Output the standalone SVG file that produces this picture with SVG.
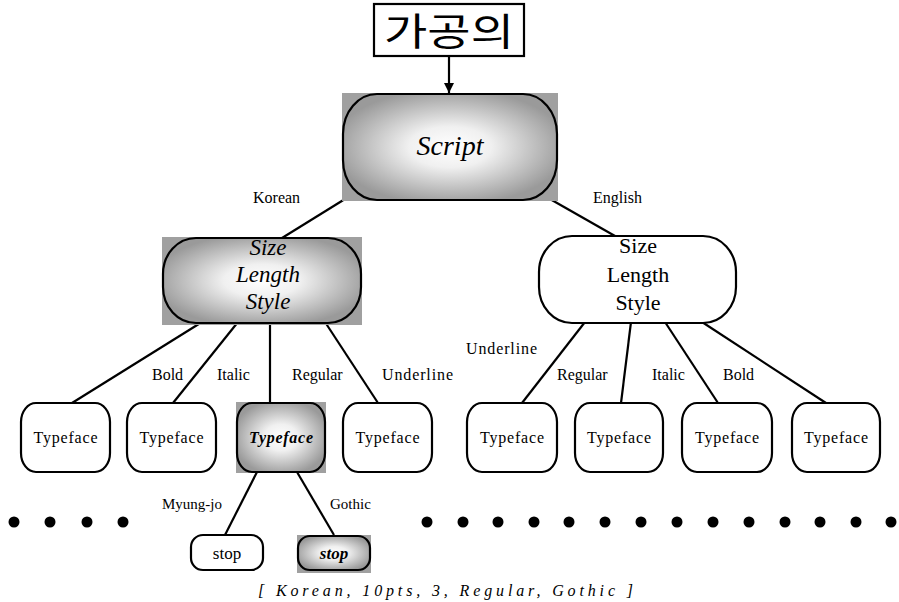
<svg xmlns="http://www.w3.org/2000/svg" width="899" height="602" viewBox="0 0 899 602">
<defs>
<radialGradient id="g" cx="50%" cy="50%" r="55%">
<stop offset="0" stop-color="#ffffff"/>
<stop offset="0.35" stop-color="#f0f0f0"/>
<stop offset="1" stop-color="#9a9a9a"/>
</radialGradient>
<marker id="arr" viewBox="0 0 10 10" refX="10" refY="5" markerWidth="10" markerHeight="10" markerUnits="userSpaceOnUse" orient="auto">
<path d="M0,0 L10,5 L0,10 z" fill="#000"/>
</marker>
</defs>
<style>
.n{fill:#fff;stroke:#000;stroke-width:2.2}
.gn{fill:url(#g);stroke:#000;stroke-width:2.2}
.bg{fill:#a0a0a0}
.c line{stroke:#000;stroke-width:2.2}
.t{fill:#000;text-anchor:middle}
.lb{font-size:16px;fill:#000}
.dot{fill:#000}
</style>
<rect width="899" height="602" fill="#fff"/>
<g font-family="Liberation Serif, Tinos, DejaVu Serif, Times New Roman, serif">

<g id="connectors" class="c">
<line x1="449" y1="56" x2="449" y2="93" marker-end="url(#arr)"/>
<line x1="345" y1="199" x2="282" y2="238"/>
<line x1="550" y1="199" x2="615" y2="236"/>
<line x1="202" y1="322" x2="72" y2="403"/>
<line x1="238" y1="322" x2="173" y2="403"/>
<line x1="270" y1="322" x2="270" y2="403"/>
<line x1="325" y1="322" x2="378" y2="403"/>
<line x1="585" y1="322" x2="522" y2="403"/>
<line x1="631" y1="322" x2="621" y2="403"/>
<line x1="665" y1="322" x2="718" y2="403"/>
<line x1="702" y1="322" x2="826" y2="403"/>
<line x1="257" y1="472" x2="225" y2="535"/>
<line x1="297" y1="472" x2="334" y2="535"/>
</g>

<g id="labels" class="lb">
<text x="253" y="203">Korean</text>
<text x="593" y="203">English</text>
<text x="152" y="380">Bold</text>
<text x="217" y="380">Italic</text>
<text x="292" y="380">Regular</text>
<text x="382" y="380" textLength="71">Underline</text>
<text x="466" y="354" textLength="71">Underline</text>
<text x="557" y="380">Regular</text>
<text x="652" y="380">Italic</text>
<text x="723" y="380">Bold</text>
<text x="162" y="509" font-size="15">Myung-jo</text>
<text x="330" y="509" font-size="15">Gothic</text>
</g>

<g id="title">
<rect x="374" y="4" width="150" height="52" fill="#fff" stroke="#000" stroke-width="2.2"/>
<text x="449" y="45" font-family="Noto Sans CJK KR, Noto Sans, sans-serif" font-size="38" text-anchor="middle" fill="#000" textLength="130" lengthAdjust="spacingAndGlyphs">가공의</text>
</g>

<g id="script">
<rect class="bg" x="342" y="93" width="216" height="108"/>
<rect class="gn" x="343" y="94" width="214" height="106" rx="34" ry="40"/>
<text class="t" x="450" y="155" font-size="28" font-style="italic">Script</text>
</g>

<g id="korean-size">
<rect class="bg" x="162" y="237" width="200" height="88"/>
<rect class="gn" x="163" y="238" width="198" height="85" rx="33" ry="36"/>
<text class="t" x="268" y="255" font-size="23" font-style="italic">Size</text>
<text class="t" x="268" y="282" font-size="23" font-style="italic">Length</text>
<text class="t" x="268" y="309" font-size="23" font-style="italic">Style</text>
</g>

<g id="english-size">
<rect class="n" x="539" y="236" width="197" height="87" rx="33" ry="36"/>
<text class="t" x="638" y="253" font-size="22">Size</text>
<text class="t" x="638" y="282" font-size="22">Length</text>
<text class="t" x="638" y="310" font-size="22">Style</text>
</g>

<g id="tf1">
<rect class="n" x="21" y="403" width="89" height="69" rx="15" ry="19"/>
<text class="t" x="65.5" y="443" font-size="16" textLength="64">Typeface</text>
</g>
<g id="tf2">
<rect class="n" x="127" y="403" width="89" height="69" rx="15" ry="19"/>
<text class="t" x="171.5" y="443" font-size="16" textLength="64">Typeface</text>
</g>
<g id="tf3">
<rect class="bg" x="236" y="402" width="90" height="71"/>
<rect class="gn" x="237" y="403" width="88" height="69" rx="15" ry="19"/>
<text class="t" x="281" y="443" font-size="16" font-style="italic" font-weight="bold" textLength="64">Typeface</text>
</g>
<g id="tf4">
<rect class="n" x="343" y="403" width="89" height="69" rx="15" ry="19"/>
<text class="t" x="387.5" y="443" font-size="16" textLength="64">Typeface</text>
</g>
<g id="tf5">
<rect class="n" x="467" y="403" width="90" height="69" rx="15" ry="19"/>
<text class="t" x="512" y="443" font-size="16" textLength="64">Typeface</text>
</g>
<g id="tf6">
<rect class="n" x="575" y="403" width="88" height="69" rx="15" ry="19"/>
<text class="t" x="619" y="443" font-size="16" textLength="64">Typeface</text>
</g>
<g id="tf7">
<rect class="n" x="682" y="403" width="90" height="69" rx="15" ry="19"/>
<text class="t" x="727" y="443" font-size="16" textLength="64">Typeface</text>
</g>
<g id="tf8">
<rect class="n" x="792" y="403" width="88" height="69" rx="15" ry="19"/>
<text class="t" x="836" y="443" font-size="16" textLength="64">Typeface</text>
</g>

<g id="stop1">
<rect class="n" x="191" y="535" width="72" height="35" rx="12" ry="12"/>
<text class="t" x="227" y="559" font-size="17">stop</text>
</g>
<g id="stop2">
<rect class="bg" x="297" y="535" width="74" height="38"/>
<rect class="gn" x="298" y="536" width="72" height="34" rx="12" ry="12"/>
<text class="t" x="334" y="559" font-size="17" font-style="italic" font-weight="bold">stop</text>
</g>

<g id="dots" class="dot">
<circle cx="14" cy="522" r="5.5"/>
<circle cx="50" cy="522" r="5.5"/>
<circle cx="87" cy="522" r="5.5"/>
<circle cx="123" cy="522" r="5.5"/>
<circle cx="427" cy="522" r="5.5"/>
<circle cx="463" cy="522" r="5.5"/>
<circle cx="498" cy="522" r="5.5"/>
<circle cx="534" cy="522" r="5.5"/>
<circle cx="569" cy="522" r="5.5"/>
<circle cx="605" cy="522" r="5.5"/>
<circle cx="641" cy="522" r="5.5"/>
<circle cx="677" cy="522" r="5.5"/>
<circle cx="713" cy="522" r="5.5"/>
<circle cx="749" cy="522" r="5.5"/>
<circle cx="785" cy="522" r="5.5"/>
<circle cx="820" cy="522" r="5.5"/>
<circle cx="856" cy="522" r="5.5"/>
<circle cx="891" cy="522" r="5.5"/>
</g>

<g id="caption">
<text x="258" y="596" font-size="16" font-style="italic" textLength="375" lengthAdjust="spacing">[ Korean, 10pts, 3, Regular, Gothic ]</text>
</g>
</g>
</svg>
